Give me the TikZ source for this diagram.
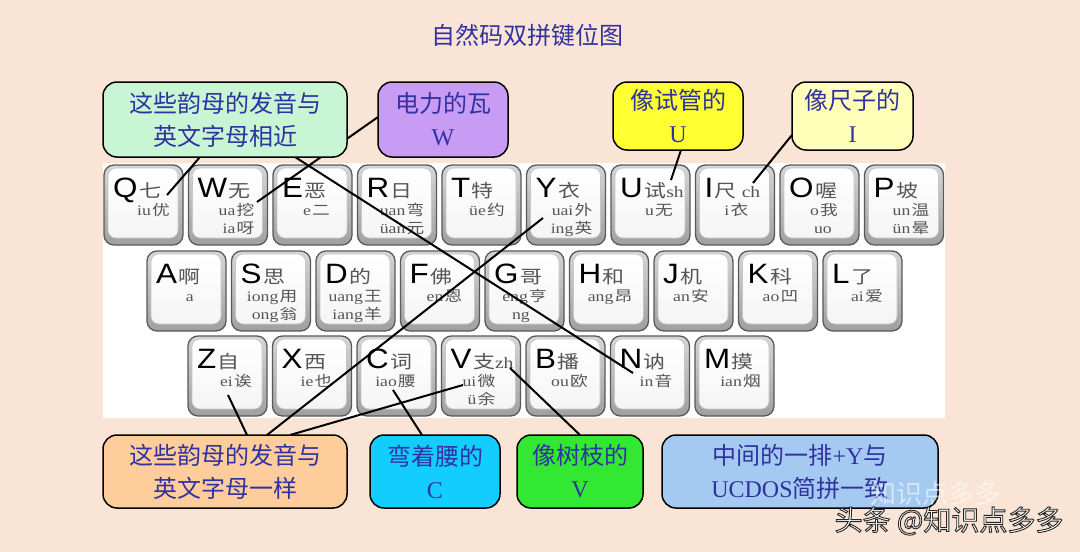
\documentclass[tikz,border=0pt]{standalone}
\usepackage{fontspec}
\setmainfont{Liberation Serif}
\newfontfamily\cjk{Noto Sans CJK SC}
\newfontfamily\arialf{Liberation Sans}
\usetikzlibrary{calc}
\definecolor{bgpeach}{RGB}{250,228,213}
\definecolor{keytxt}{RGB}{85,85,85}
\definecolor{txtblue}{RGB}{48,50,160}
\definecolor{cmint}{RGB}{200,245,212}
\definecolor{cpurple}{RGB}{200,155,245}
\definecolor{cyellow}{RGB}{255,255,50}
\definecolor{clyellow}{RGB}{255,255,185}
\definecolor{cpeach}{RGB}{255,205,155}
\definecolor{ccyan}{RGB}{20,205,255}
\definecolor{cgreen}{RGB}{50,232,50}
\definecolor{clblue}{RGB}{165,202,242}
\newcommand\sx[1]{\scalebox{1.22}[1]{#1}}
\newcommand\zh[1]{\kern1pt{\cjk #1}}
\newcommand\ex[1]{{\rmfamily\fontsize{16}{16}\selectfont #1}}
\newcommand\outlined[1]{\special{pdf:literal direct 0.9 w 0.15 0.15 0.15 RG 2 Tr}#1\special{pdf:literal direct 0 Tr}}
\tikzset{
  keyouter/.style={rounded corners=10pt, draw=black!65, line width=1.3pt, top color=gray!32, bottom color=gray!75},
  keyinner/.style={rounded corners=8pt, draw=gray!45, line width=0.6pt, top color=white, bottom color=gray!8},
  keyletter/.style={inner sep=0pt, anchor=base west, font=\fontsize{28}{28}\arialf},
  keysub/.style={inner sep=0pt, anchor=base east, text=keytxt, font=\fontsize{14.5}{14.5}\selectfont},
  callout/.style={draw=black, line width=1.5pt, rounded corners=14pt, inner sep=0pt, align=center, text=txtblue, font=\fontsize{24}{33}\cjk},
  conn/.style={draw=black, line width=2pt},
}
% name, kx, ky, letter, char, line2, line3, right offset
\newcommand\kbkey[8]{%
  \path[keyouter] (#2,#3) rectangle ({#2+79},{#3+80});
  \path[keyinner] ({#2+4},{#3+3}) rectangle ({#2+74},{#3+73});
  \node[keyletter] (#1) at ({#2+9},{#3+32}) {\scalebox{1.12}[1]{#4}\kern1.5pt{\color{keytxt}\fontsize{18}{18}\cjk\sx{#5}}};
  \node[keysub] (#1a) at ({#2+#8},{#3+50}) {\sx{#6}};
  \node[keysub] (#1b) at ({#2+#8},{#3+68.5}) {\sx{#7}};
}
\begin{document}
\begin{tikzpicture}[x=1pt,y=-1pt]
\useasboundingbox (0,0) rectangle (1080,552);
\fill[bgpeach] (0,0) rectangle (1080,552);
\node[text=txtblue, font=\fontsize{24}{24}\cjk] (title) at (527,35) {自然码双拼键位图};
\fill[white] (103,163) rectangle (945,418);
% row 1
\kbkey{kQ}{104}{165}{Q}{七}{iu\zh{优}}{}{66}
\kbkey{kW}{188.5}{165}{W}{无}{ua\zh{挖}}{ia\zh{呀}}{66}
\kbkey{kE}{273}{165}{E}{恶}{e\zh{二}}{}{57}
\kbkey{kR}{357.5}{165}{R}{日}{uan\zh{弯}}{üan\zh{元}}{67}
\kbkey{kT}{442}{165}{T}{特}{üe\zh{约}}{}{63}
\kbkey{kY}{526.5}{165}{Y}{衣}{uai\zh{外}}{ing\zh{英}}{66}
\kbkey{kU}{611}{165}{U}{试\ex{sh}}{u\zh{无}}{}{62}
\kbkey{kI}{695.5}{165}{I}{尺\ex{ ch}}{i\zh{衣}}{}{53}
\kbkey{kO}{780}{165}{O}{喔}{o\zh{我}}{uo\hspace{5pt}}{58}
\kbkey{kP}{864.5}{165}{P}{坡}{un\zh{温}}{ün\zh{晕}}{65}
% row 2
\kbkey{kA}{147}{251}{A}{啊}{a}{}{47}
\kbkey{kS}{231.5}{251}{S}{思}{iong\zh{用}}{ong\zh{翁}}{66}
\kbkey{kD}{316}{251}{D}{的}{uang\zh{王}}{iang\zh{羊}}{66}
\kbkey{kF}{400.5}{251}{F}{佛}{en\zh{恩}}{}{62}
\kbkey{kG}{485}{251}{G}{哥}{eng\zh{亨}}{ng\hspace{14pt}}{62}
\kbkey{kH}{569.5}{251}{H}{和}{ang\zh{昂}}{}{63}
\kbkey{kJ}{654}{251}{J}{机}{an\zh{安}}{}{55}
\kbkey{kK}{738.5}{251}{K}{科}{ao\zh{凹}}{}{60}
\kbkey{kL}{823}{251}{L}{了}{ai\zh{爱}}{}{60}
% row 3
\kbkey{kZ}{188}{336}{Z}{自}{ei\zh{诶}}{}{64}
\kbkey{kX}{272.5}{336}{X}{西}{ie\zh{也}}{}{60}
\kbkey{kC}{357}{336}{C}{词}{iao\zh{腰}}{}{59}
\kbkey{kV}{441.5}{336}{V}{支\ex{zh}}{ui\zh{微}}{ü\zh{余}}{54}
\kbkey{kB}{526}{336}{B}{播}{ou\zh{欧}}{}{62}
\kbkey{kN}{610.5}{336}{N}{讷}{in\zh{音}}{}{62}
\kbkey{kM}{695}{336}{M}{摸}{ian\zh{烟}}{}{66}
% connector end points
\coordinate (eQ) at (167,195);
\coordinate (eN) at (633,373);
\coordinate (eW) at (257,202);
\coordinate (eU) at (671,180);
\coordinate (eI) at (753,183);
\coordinate (eZ) at (228,395);
\coordinate (eY) at (543,218);
\coordinate (eV) at (463,385);
\coordinate (eC) at (393,390);
\coordinate (eVz) at (510,368);
\coordinate (sQ) at (200,157);
\coordinate (sN) at (295,157);
\coordinate (sW) at (378,117);
\coordinate (sU) at (681,150);
\coordinate (sI) at (792,135);
\coordinate (sZ) at (247,435);
\coordinate (sY) at (267,435);
\coordinate (sV) at (290,435);
\coordinate (sC) at (422,435);
\coordinate (sVz) at (580,435);
\draw[conn] (sQ) -- (eQ);
\draw[conn] (sN) -- (eN);
\draw[conn] (sW) -- (eW);
\draw[conn] (sU) -- (eU);
\draw[conn] (sI) -- (eI);
\draw[conn] (sZ) -- (eZ);
\draw[conn] (sY) -- (eY);
\draw[conn] (sV) -- (eV);
\draw[conn] (sC) -- (eC);
\draw[conn] (sVz) -- (eVz);
% callouts
\node[callout, fill=cmint, minimum width=244pt, minimum height=75pt] (cNear) at (225,119.5) {这些韵母的发音与\\英文字母相近};
\node[callout, fill=cpurple, minimum width=130pt, minimum height=75pt] (cW) at (443,119.5) {电力的瓦\\{\rmfamily W}};
\node[callout, fill=cyellow, minimum width=130pt, minimum height=68pt] (cU) at (678,116) {像试管的\\{\rmfamily U}};
\node[callout, fill=clyellow, minimum width=121pt, minimum height=68pt] (cI) at (852.5,116) {像尺子的\\{\rmfamily I}};
\node[callout, fill=cpeach, minimum width=244pt, minimum height=73pt] (cSame) at (225,471.5) {这些韵母的发音与\\英文字母一样};
\node[callout, fill=ccyan, minimum width=130pt, minimum height=73pt] (cC) at (435,471.5) {弯着腰的\\{\rmfamily C}};
\node[callout, fill=cgreen, minimum width=126pt, minimum height=73pt] (cV) at (580,471.5) {像树枝的\\{\rmfamily V}};
\node[callout, fill=clblue, minimum width=276pt, minimum height=73pt] (cUC) at (800,471.5) {中间的一排{\rmfamily +Y}与\\{\rmfamily UCDOS}简拼一致};
% watermark
\node[text=white, opacity=0.55, font=\fontsize{26}{26}\cjk] (wm1) at (935,494) {知识点多多};
\node[text=white, font=\fontsize{28}{28}\cjk] (wm2) at (949,521) {\outlined{头条 @知识点多多}};
\end{tikzpicture}
\end{document}
